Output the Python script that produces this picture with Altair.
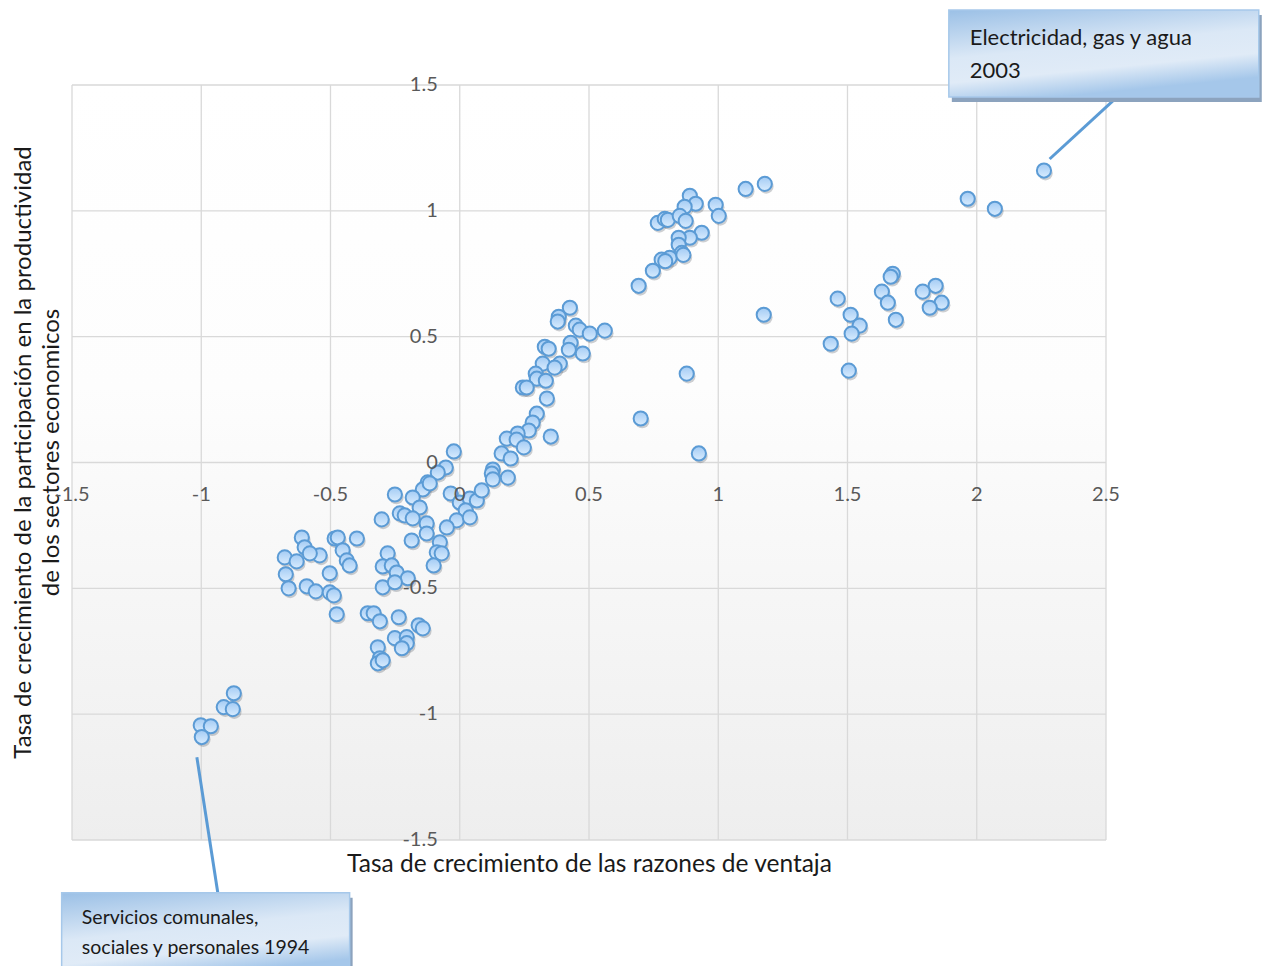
import altair as alt
import pandas as pd

# ---------------- data ----------------
x_vals = [
    2.26, 1.965, 2.07, 1.18, 1.106,
    1.675, 1.667, 1.633, 1.656, 1.687, 1.841, 1.791, 1.864, 1.818, 1.462, 1.512, 1.547, 1.516, 1.435, 1.505,
    1.176, 0.878, 0.70, 0.925,
    0.890, 0.913, 0.870, 0.990, 1.002, 0.766, 0.793, 0.805, 0.851, 0.874, 0.936, 0.890, 0.847, 0.847, 0.859,
    0.812, 0.781, 0.747, 0.692, 0.865, 0.795,
    0.426, 0.383, 0.379, 0.449, 0.464, 0.503, 0.561, 0.429, 0.422, 0.476, 0.329, 0.344, 0.321, 0.387, 0.367,
    0.294, 0.298, 0.333, 0.244, 0.259, 0.337, 0.298, 0.282, 0.267, 0.224, 0.182, 0.220, 0.352, 0.248, 0.162,
    0.197, 0.128,
    -0.023, -0.054, -0.085, -0.124, -0.143, -0.251, -0.182, -0.155, -0.232, -0.213, -0.182, -0.302, -0.035,
    0.0, 0.039, 0.066, 0.085, 0.124, 0.128, 0.186, 0.023, -0.012, 0.039, -0.050, -0.128, -0.128, -0.186,
    -0.077, -0.089, -0.070, -0.101, -0.116,
    -0.611, -0.600, -0.677, -0.631, -0.542, -0.580, -0.673, -0.662, -0.592, -0.557, -0.503, -0.503, -0.487,
    -0.476, -0.484, -0.472, -0.398, -0.453, -0.437, -0.426, -0.279, -0.298, -0.263, -0.244, -0.201, -0.298,
    -0.251, -0.356, -0.333, -0.309, -0.236, -0.159, -0.143, -0.251, -0.205, -0.205, -0.224, -0.317, -0.309,
    -0.317, -0.298,
    -0.874, -0.913, -0.878, -1.002, -0.963, -0.998,
]
y_vals = [
    1.16, 1.048, 1.008, 1.107, 1.087,
    0.75, 0.738, 0.679, 0.635, 0.567, 0.702, 0.679, 0.635, 0.615, 0.651, 0.587, 0.544, 0.512, 0.472, 0.365,
    0.587, 0.353, 0.175, 0.036,
    1.06, 1.028, 1.016, 1.024, 0.980, 0.952, 0.968, 0.964, 0.980, 0.96, 0.913, 0.893, 0.893, 0.865, 0.833,
    0.813, 0.806, 0.762, 0.702, 0.825, 0.800,
    0.615, 0.579, 0.560, 0.544, 0.528, 0.512, 0.524, 0.476, 0.448, 0.433, 0.460, 0.452, 0.393, 0.393, 0.377,
    0.353, 0.333, 0.325, 0.298, 0.298, 0.254, 0.194, 0.159, 0.127, 0.115, 0.095, 0.091, 0.103, 0.060, 0.036,
    0.016, -0.028,
    0.044, -0.02, -0.04, -0.079, -0.107, -0.127, -0.139, -0.179, -0.202, -0.21, -0.222, -0.226, -0.123,
    -0.159, -0.143, -0.151, -0.111, -0.044, -0.067, -0.06, -0.19, -0.23, -0.218, -0.258, -0.242, -0.282, -0.31,
    -0.317, -0.357, -0.361, -0.409, -0.083,
    -0.298, -0.337, -0.377, -0.393, -0.369, -0.361, -0.444, -0.5, -0.492, -0.512, -0.440, -0.516, -0.528,
    -0.603, -0.302, -0.298, -0.302, -0.349, -0.389, -0.409, -0.361, -0.413, -0.409, -0.437, -0.460, -0.496,
    -0.476, -0.599, -0.599, -0.631, -0.615, -0.647, -0.659, -0.698, -0.694, -0.718, -0.738, -0.734, -0.778,
    -0.798, -0.786,
    -0.917, -0.972, -0.980, -1.044, -1.048, -1.091,
]

x_domain = [-1.5, 2.5]
y_domain = [-1.5, 1.5]
x_ticks = [-1.5, -1, -0.5, 0, 0.5, 1, 1.5, 2, 2.5]
x_tick_labels = ["-1.5", "-1", "-0.5", "0", "0.5", "1", "1.5", "2", "2.5"]
y_ticks = [-1.5, -1, -0.5, 0, 0.5, 1, 1.5]
y_tick_labels = ["-1.5", "-1", "-0.5", "0", "0.5", "1", "1.5"]

x_title = "Tasa de crecimiento de las razones de ventaja"
y_title = ["Tasa de crecimiento de la participación en la productividad",
           "de los sectores economicos"]

# callouts: box extents, text lines, leader lines (data units)
box_x = [1.892, -1.540]
box_x2 = [3.091, -0.426]
box_y = [1.798, -1.710]
box_y2 = [1.452, -2.05]
text_lines = ["Electricidad, gas y agua", "2003",
              "Servicios comunales,", "sociales y personales 1994"]
text_size = [22, 22, 19.5, 19.5]
text_x = [1.973, 1.973, -1.462, -1.462]
text_y = [1.687, 1.556, -1.810, -1.929]
lead_x = [2.534, -1.017]
lead_y = [1.444, -1.171]
lead_x2 = [2.282, -0.936]
lead_y2 = [1.206, -1.710]

# ---------------- build ----------------
W, H = 1034, 755
FONT = "Lato"

xs = alt.Scale(domain=x_domain, nice=False, zero=False)
ys = alt.Scale(domain=y_domain, nice=False, zero=False)

x_axis = alt.Axis(title=x_title, labels=False, ticks=False, domain=False, grid=False,
                  titleFont=FONT, titleFontSize=24.5, titleFontWeight="normal",
                  titleColor="#1a1a1a", titlePadding=12)
y_axis = alt.Axis(title=y_title, labels=False, ticks=False, domain=False, grid=False,
                  titleFont=FONT, titleFontSize=24, titleFontWeight="normal",
                  titleColor="#1a1a1a", titleX=-37, titleY=367, titleBaseline="bottom",
                  titleAlign="center", titleLineHeight=28)

X = lambda f="x": alt.X(f"{f}:Q", scale=xs, axis=x_axis)
Y = lambda f="y": alt.Y(f"{f}:Q", scale=ys, axis=y_axis)

pts = pd.DataFrame({"x": x_vals, "y": y_vals})
bg = pd.DataFrame({"x": [x_domain[0]], "x2": [x_domain[1]], "y": [y_domain[0]], "y2": [y_domain[1]]})
vgrid = pd.DataFrame({"x": x_ticks})
hgrid = pd.DataFrame({"y": y_ticks})
xlab = pd.DataFrame({"x": x_ticks, "y": [0] * len(x_ticks), "t": x_tick_labels})
ylab = pd.DataFrame({"x": [0] * len(y_ticks), "y": y_ticks, "t": y_tick_labels})
boxes = pd.DataFrame({"x": box_x, "x2": box_x2, "y": box_y, "y2": box_y2})
texts = pd.DataFrame({"x": text_x, "y": text_y, "t": text_lines, "s": text_size})
leads = pd.DataFrame({"x": lead_x, "y": lead_y, "x2": lead_x2, "y2": lead_y2})

bg_grad = alt.LinearGradient(gradient="linear",
                             stops=[alt.GradientStop(color="#ffffff", offset=0),
                                    alt.GradientStop(color="#fdfdfd", offset=0.4),
                                    alt.GradientStop(color="#eeeeee", offset=1)],
                             x1=0, x2=0, y1=0, y2=1)
pt_grad = alt.LinearGradient(gradient="linear",
                             stops=[alt.GradientStop(color="#a3cbf4", offset=0),
                                    alt.GradientStop(color="#d9ecfe", offset=1)],
                             x1=0, x2=0, y1=0, y2=1)
box_grad = alt.LinearGradient(gradient="linear",
                              stops=[alt.GradientStop(color="#9bc0e6", offset=0),
                                     alt.GradientStop(color="#dbe8f6", offset=0.5),
                                     alt.GradientStop(color="#e0ebf7", offset=0.75),
                                     alt.GradientStop(color="#a5c7ea", offset=1)],
                              x1=0, x2=0.35, y1=0, y2=1)

background = alt.Chart(bg).mark_rect(fill=bg_grad).encode(
    x=X(), x2="x2:Q", y=Y(), y2="y2:Q")
vlines = alt.Chart(vgrid).mark_rule(color="#d9d9d9", strokeWidth=1.3).encode(x=X())
hlines = alt.Chart(hgrid).mark_rule(color="#d9d9d9", strokeWidth=1.3).encode(y=Y())

shadow = alt.Chart(pts).mark_circle(size=215, color="#1f2a38", opacity=0.22,
                                     xOffset=1.5, yOffset=2.5).encode(x=X(), y=Y())
points = alt.Chart(pts).mark_circle(size=200, fill=pt_grad, stroke="#5b9bd5",
                                     strokeWidth=2, opacity=1).encode(x=X(), y=Y())

xlabels = alt.Chart(xlab).mark_text(font=FONT, fontSize=20, color="#595959", align="center",
                                    baseline="middle", dy=32).encode(x=X(), y=Y(), text="t:N")
ylabels = alt.Chart(ylab).mark_text(font=FONT, fontSize=20, color="#595959", align="right",
                                    baseline="middle", dx=-22).encode(x=X(), y=Y(), text="t:N")

leaders = alt.Chart(leads).mark_rule(color="#5b9bd5", strokeWidth=3).encode(
    x=X(), y=Y(), x2="x2:Q", y2="y2:Q")
box_shadow = alt.Chart(boxes).mark_rect(fill="#8ca3be", xOffset=3, x2Offset=3,
                                        yOffset=5, y2Offset=5).encode(
    x=X(), x2="x2:Q", y=Y(), y2="y2:Q")
box = alt.Chart(boxes).mark_rect(fill=box_grad, stroke="#a6c8ea", strokeWidth=1.5).encode(
    x=X(), x2="x2:Q", y=Y(), y2="y2:Q")
box_text = alt.Chart(texts).mark_text(font=FONT, color="#1a1a1a", align="left",
                                      baseline="middle").encode(
    x=X(), y=Y(), text="t:N", size=alt.Size("s:Q", scale=None, legend=None))

chart = alt.layer(
    background, vlines, hlines, leaders, shadow, points, xlabels, ylabels,
    box_shadow, box, box_text
).properties(
    width=W, height=H,
    autosize=alt.AutoSizeParams(type="none"),
    padding={"left": 64, "top": 77, "right": 160, "bottom": 126},
).configure_view(stroke=None)

chart.save("out.html", embed_options={"renderer": "svg", "actions": False})
